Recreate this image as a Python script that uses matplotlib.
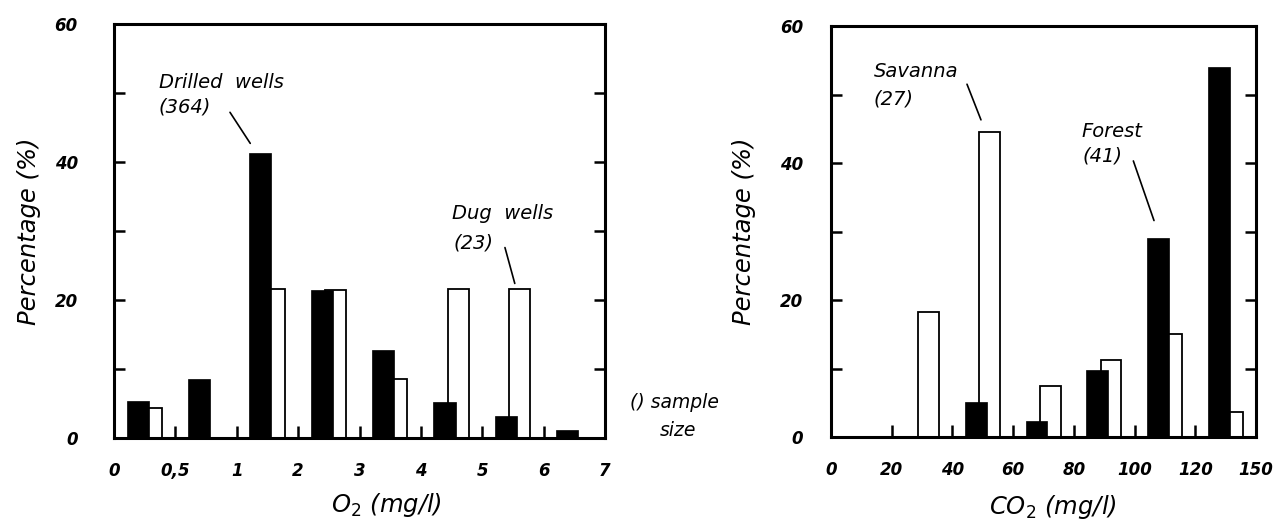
import matplotlib
matplotlib.use("Agg")
import matplotlib.pyplot as plt
import numpy as np

# ---- data ----
o2_labels = ["0", "0,5", "1", "2", "3", "4", "5", "6", "7"]
drilled_wells = [5.3, 8.5, 41.3, 21.5, 12.8, 5.2, 3.2, 1.2]   # black, n=364
dug_wells = [4.4, 0, 21.6, 21.4, 8.6, 21.6, 21.6, 0]          # white, n=23

co2_labels = ["0", "20", "40", "60", "80", "100", "120", "150"]
forest = [0, 0, 5.1, 2.4, 9.8, 29.1, 54.0]                    # black, n=41
savanna = [0, 18.3, 44.5, 7.4, 11.2, 15.0, 3.65]              # white, n=27

y_ticklabels = ["0", "", "20", "", "40", "", "60"]

plt.rcParams['font.family'] = ['DejaVu Sans']

fig = plt.figure(figsize=(12.77, 5.24), dpi=100)
W, H = 1277, 524

def px_axes(x0, x1, ytop, ybot):
    return fig.add_axes([x0 / W, 1 - ybot / H, (x1 - x0) / W, (ybot - ytop) / H])

axL = px_axes(114, 605, 24, 438)
axR = px_axes(831, 1256, 26, 437)

def style(ax, nbins, xlabels, ypad):
    ax.set_xlim(0, nbins)
    ax.set_ylim(0, 60)
    for s in ax.spines.values():
        s.set_linewidth(2.2)
    ax.set_xticks(np.arange(nbins + 1))
    ax.set_xticklabels(xlabels, fontsize=12, fontweight='bold', style='italic')
    ax.set_yticks(np.arange(0, 61, 10))
    ax.set_yticklabels(y_ticklabels, fontsize=12, fontweight='bold', style='italic')
    ax.tick_params(axis='y', direction='in', length=8, width=1.8,
                   left=True, right=True, pad=ypad)
    ax.tick_params(axis='x', direction='in', length=9, width=1.8,
                   bottom=True, top=False, pad=17)

def bars(ax, black, white):
    idx = np.arange(len(black))
    ax.bar(idx + 0.61, white, width=0.34, color='white', edgecolor='black',
           linewidth=1.3, zorder=2)
    ax.bar(idx + 0.385, black, width=0.36, color='black', edgecolor='black',
           linewidth=0.5, zorder=3)

bars(axL, drilled_wells, dug_wells)
bars(axR, forest, savanna)
style(axL, len(drilled_wells), o2_labels, 26)
style(axR, len(forest), co2_labels, 20)

lab_kw = dict(fontsize=17.5, style='italic')
axL.set_ylabel("Percentage (%)", **lab_kw)
axR.set_ylabel("Percentage (%)", **lab_kw)
axL.yaxis.label.set_va('center')
axR.yaxis.label.set_va('center')
axL.yaxis.set_label_coords(-0.173, 0.5)
axR.yaxis.set_label_coords(-0.205, 0.5)
axL.set_xlabel(r"O$_2$ (mg/l)", **lab_kw)
axR.set_xlabel(r"CO$_2$ (mg/l)", **lab_kw)
axL.xaxis.label.set_va('center')
axR.xaxis.label.set_va('center')
axL.xaxis.set_label_coords(0.554, -0.162)
axR.xaxis.set_label_coords(0.522, -0.170)

ann_kw = dict(fontsize=14, style='italic', va='center', ha='left')
line_kw = dict(arrowstyle='-', lw=1.2, color='black', shrinkA=0, shrinkB=0)

axL.text(0.73, 51.5, "Drilled  wells", **ann_kw)
axL.text(0.73, 47.9, "(364)", **ann_kw)
axL.annotate('', xy=(2.22, 42.7), xytext=(1.89, 47.2), arrowprops=line_kw)
axL.text(5.5, 32.6, "Dug  wells", **ann_kw)
axL.text(5.53, 28.2, "(23)", **ann_kw)
axL.annotate('', xy=(6.53, 22.4), xytext=(6.37, 27.6), arrowprops=line_kw)

axR.text(0.70, 53.4, "Savanna", **ann_kw)
axR.text(0.70, 49.3, "(27)", **ann_kw)
axR.annotate('', xy=(2.47, 46.3), xytext=(2.24, 51.5), arrowprops=line_kw)
axR.text(4.13, 44.6, "Forest", **ann_kw)
axR.text(4.15, 41.0, "(41)", **ann_kw)
axR.annotate('', xy=(5.32, 31.6), xytext=(4.98, 40.3), arrowprops=line_kw)

fig.text(630 / W, 1 - 403 / H, "() sample", fontsize=13.5, style='italic',
         va='center', ha='left')
fig.text(660 / W, 1 - 430 / H, "size", fontsize=13.5, style='italic',
         va='center', ha='left')

fig.savefig("out.png", dpi=100)
